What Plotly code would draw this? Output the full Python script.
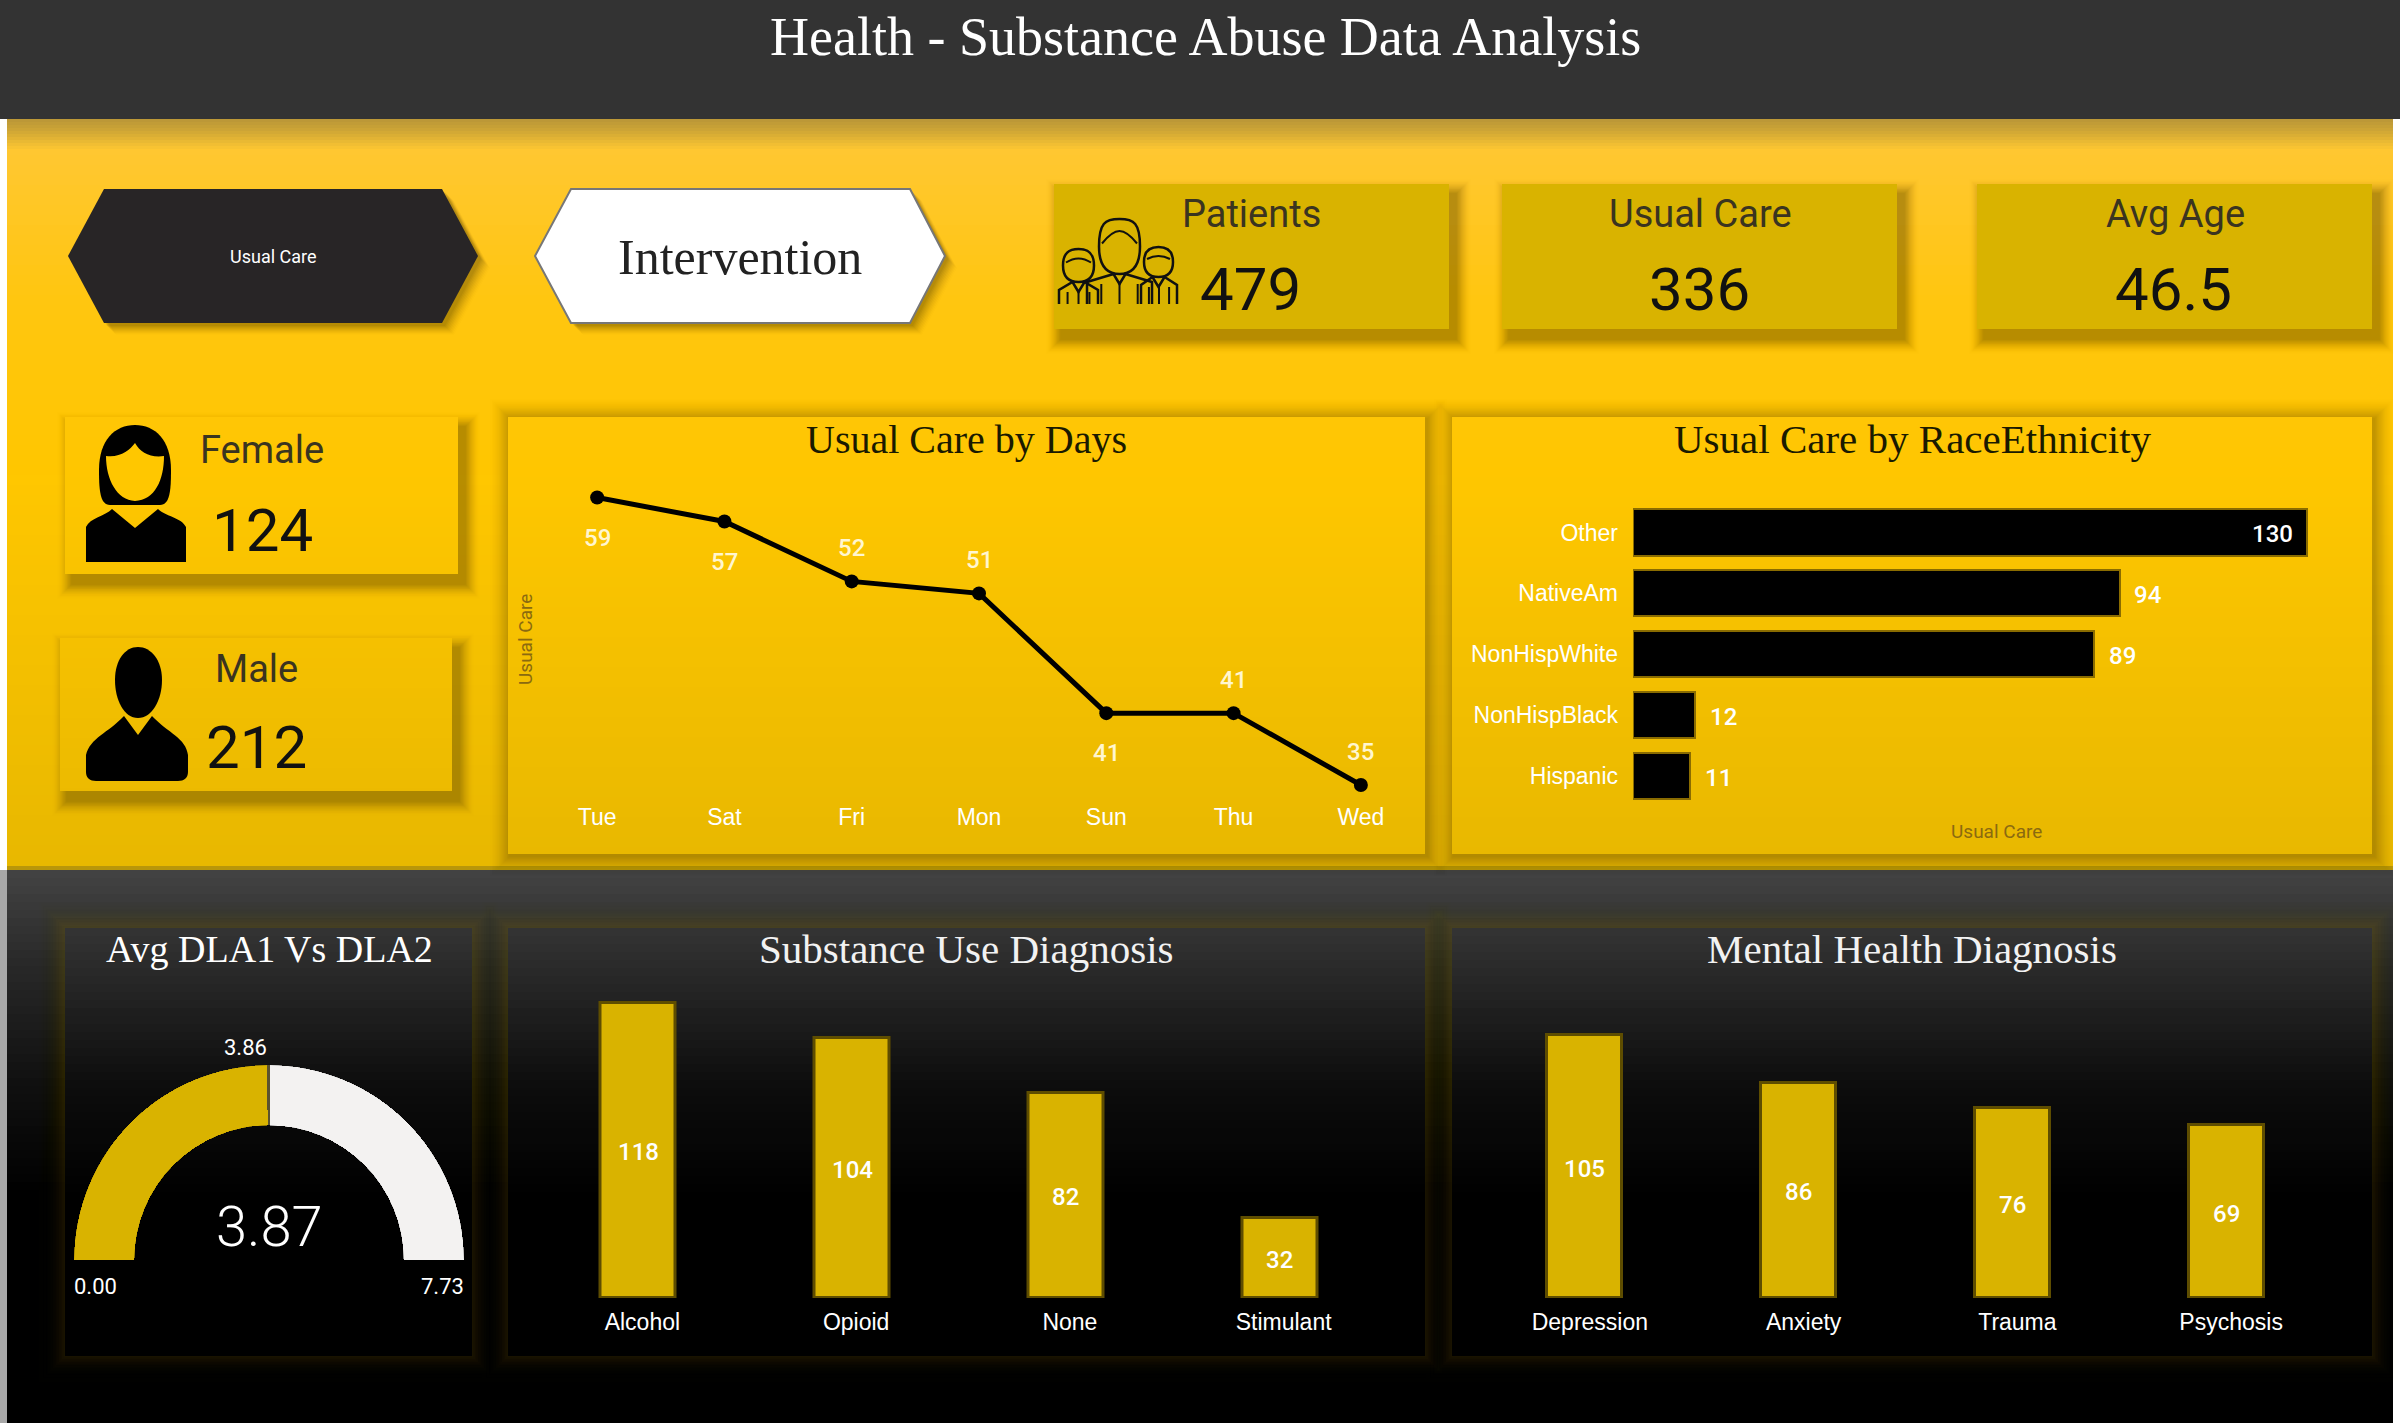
import plotly.graph_objects as go

W, H = 2400, 1423
SERIF = "Liberation Serif"
NARROW = "Roboto"
SANS = "Liberation Sans"
GOLD = "#D9B300"

# ---------- data ----------
dashboard_title = "Health - Substance Abuse Data Analysis"
slicer_items = ["Usual Care", "Intervention"]
kpi_labels = ["Patients", "Usual Care", "Avg Age"]
kpi_values = ["479", "336", "46.5"]
gender_labels = ["Female", "Male"]
gender_values = ["124", "212"]
day_names = ["Tue", "Sat", "Fri", "Mon", "Sun", "Thu", "Wed"]
day_care = [59, 57, 52, 51, 41, 41, 35]
race_names = ["Other", "NativeAm", "NonHispWhite", "NonHispBlack", "Hispanic"]
race_care = [130, 94, 89, 12, 11]
substance_names = ["Alcohol", "Opioid", "None", "Stimulant"]
substance_counts = [118, 104, 82, 32]
mental_names = ["Depression", "Anxiety", "Trauma", "Psychosis"]
mental_counts = [105, 86, 76, 69]
gauge_value = 3.87
gauge_target = 3.86
gauge_min = 0.0
gauge_max = 7.73


# ---------- pixel helpers ----------
def X(p):
    return p / W


def Y(p):
    return 1 - p / H


shapes = []
annots = []


def rect(x0, y0, x1, y1, color, line=None, lw=0):
    shapes.append(dict(type="rect", xref="paper", yref="paper", layer="below",
                       x0=X(x0), x1=X(x1), y0=Y(y0), y1=Y(y1), fillcolor=color,
                       line=dict(width=lw, color=line or color)))


def path(cmds, color=None, line=None, lw=0):
    parts = []
    for c in cmds:
        if c[0] == "Z":
            parts.append("Z")
        else:
            parts.append(c[0] + " ".join(f"{X(a):.5f},{Y(b):.5f}" for a, b in c[1:]))
    shapes.append(dict(type="path", xref="paper", yref="paper", layer="below", path=" ".join(parts),
                       fillcolor=color or "rgba(0,0,0,0)",
                       line=dict(width=lw, color=line or "rgba(0,0,0,0)")))


def text(s, x, y, size, color, font=SANS, bold=False, angle=0, weight=None):
    t = f"<b>{s}</b>" if bold else s
    f = dict(family=font, size=size, color=color)
    if weight:
        f["weight"] = weight
    annots.append(dict(text=t, xref="paper", yref="paper", x=X(x), y=Y(y), xanchor="center", yanchor="middle",
                       showarrow=False, textangle=angle, font=f))


def lerp_stops(stops, y):
    if y <= stops[0][0]:
        return stops[0][1]
    for (a, ca), (b, cb) in zip(stops, stops[1:]):
        if y <= b:
            t = (y - a) / (b - a)
            return tuple(ca[i] + (cb[i] - ca[i]) * t for i in range(3))
    return stops[-1][1]


YELLOW = [(119, (186, 150, 56)), (130, (205, 165, 54)), (150, (255, 200, 50)), (300, (255, 198, 16)),
          (480, (255, 199, 0)), (870, (232, 184, 0))]
DARK = [(870, (68, 68, 68)), (960, (42, 42, 42)), (1080, (17, 17, 17)), (1200, (0, 0, 0))]


def grad(x0, y0, x1, y1, stops, step=10):
    y = y0
    while y < y1:
        c = lerp_stops(stops, y + step / 2)
        rect(x0, y, x1, min(y + step + 1, y1), "rgb(%d,%d,%d)" % c)
        y += step


def shadow(x0, y0, x1, y1, dx, dy, blur, rgb, a, n=18):
    # soft falloff: outer layers are nearly clear, inner layers build up
    for i in range(n):
        e = blur * (1 - i / n)
        alpha = a * (0.1 + 1.8 * i / n)
        rect(x0 + dx - e, y0 + dy - e, x1 + dx + e, y1 + dy + e, f"rgba({rgb},{alpha:.4f})")


# ---------- page background ----------
grad(7, 119, 2393, 155, YELLOW, step=3)
grad(7, 155, 2393, 870, YELLOW, step=10)
grad(7, 870, 2393, 1423, DARK, step=8)
rect(0, 870, 7, 1423, "#A8A8A8")
rect(7, 866, 2393, 870, "#B8960A")
rect(0, 0, W, 119, "#333333")
text(dashboard_title, 1205, 37, 54, "white", SERIF)


# ---------- hexagon slicers ----------
def hexagon(x0, x1, cut0, cut1, fill, line=None):
    for off, alpha in ((12, .012), (11, .02), (10, .03), (9, .03), (8, .04), (7, .05), (6, .05), (5, .06), (4, .07), (3, .07)):
        path([("M", (x0 + off, 256 + off)), ("L", (cut0 + off, 189 + off)), ("L", (cut1 + off, 189 + off)),
              ("L", (x1 + off, 256 + off)), ("L", (cut1 + off, 323 + off)), ("L", (cut0 + off, 323 + off)), ("Z",)],
             f"rgba(60,45,0,{alpha})")
    path([("M", (x0, 256)), ("L", (cut0, 189)), ("L", (cut1, 189)), ("L", (x1, 256)), ("L", (cut1, 323)),
          ("L", (cut0, 323)), ("Z",)], fill, line, 2 if line else 0)


hexagon(68, 478, 104, 442, "#282526")
hexagon(535, 945, 571, 910, "#FFFFFF", "#777777")
text(slicer_items[0], 273, 256, 18, "white", NARROW)
text(slicer_items[1], 740, 257, 50, "#222222", SERIF)

# ---------- KPI cards ----------
kpi_boxes = [(1054, 1449), (1502, 1897), (1977, 2372)]
kpi_cx = [1251, 1700, 2175]
kpi_vx = [1250, 1699, 2173]
for (a, b), cx, vx, lab, val in zip(kpi_boxes, kpi_cx, kpi_vx, kpi_labels, kpi_values):
    shadow(a, 184, b, 329, 7, 10, 15, "100,78,0", .032)
    rect(a, 184, b, 329, GOLD)
    text(lab, cx, 214, 38, "#3A3420", NARROW)
    text(val, vx, 290, 60, "#111111", NARROW)

# ---------- gender cards ----------
gender_boxes = [(65, 417, 458, 574), (60, 638, 452, 791)]
gender_pos = [(262, 450, 530), (256, 669, 747)]
for (a, t, b, u), (cx, ly, vy), lab, val in zip(gender_boxes, gender_pos, gender_labels, gender_values):
    shadow(a, t, b, u, 7, 10, 15, "100,78,0", .032)
    grad(a, t, b, u, YELLOW)
    text(lab, cx, ly, 38, "#3A3420", NARROW)
    text(val, cx, vy, 60, "#111111", NARROW)

# female icon
path([("M", (99, 470)), ("C", (99, 440), (115, 425), (135, 425)), ("C", (155, 425), (171, 440), (171, 470)),
      ("C", (171, 490), (170, 505), (160, 505)), ("L", (110, 505)), ("C", (100, 505), (99, 490), (99, 470)), ("Z",)],
     "#000000")
path([("M", (106, 456)), ("C", (120, 458), (130, 450), (135, 443)), ("C", (140, 452), (150, 458), (164, 456)),
      ("C", (164, 480), (155, 500), (135, 501)), ("C", (117, 500), (106, 480), (106, 456)), ("Z",)], "#FFC700")
path([("M", (86, 562)), ("L", (86, 527)), ("C", (90, 518), (105, 516), (112, 509)), ("L", (135, 528)), ("L", (158, 509)),
      ("C", (165, 516), (182, 518), (186, 527)), ("L", (186, 562)), ("Z",)], "#000000")
# male icon
path([("M", (115, 680)), ("C", (115, 660), (125, 647), (138, 647)), ("C", (151, 647), (162, 660), (162, 680)),
      ("C", (162, 700), (152, 718), (138, 718)), ("C", (124, 718), (115, 700), (115, 680)), ("Z",)], "#000000")
path([("M", (86, 772)), ("L", (86, 755)), ("C", (90, 738), (108, 733), (124, 716)), ("L", (138, 735)), ("L", (152, 716)),
      ("C", (168, 733), (186, 738), (188, 755)), ("L", (188, 772)), ("C", (188, 778), (184, 781), (178, 781)),
      ("L", (96, 781)), ("C", (90, 781), (86, 778), (86, 772)), ("Z",)], "#000000")


# family icon (outlined people)
def person(x0, x1, top, chin, bottom, b0, b1):
    cx = (x0 + x1) / 2
    mid = (top + chin) / 2
    path([("M", (x0, mid)), ("C", (x0, top + 4), (x0 + 6, top), (cx, top)), ("C", (x1 - 6, top), (x1, top + 4), (x1, mid)),
          ("C", (x1, chin - 4), (cx + 9, chin), (cx, chin)), ("C", (cx - 9, chin), (x0, chin - 4), (x0, mid)), ("Z",)],
         GOLD, "#111111", 2.5)
    path([("M", (x0 + 3, mid - 3)), ("C", (cx - 4, top + 8), (cx + 4, top + 8), (x1 - 3, mid - 3))], None, "#111111", 2)
    path([("M", (b0, bottom)), ("L", (b0, chin + 8)), ("L", (cx - 6, chin)), ("L", (cx, chin + 10)),
          ("L", (cx + 6, chin)), ("L", (b1, chin + 8)), ("L", (b1, bottom))], None, "#111111", 2.5)
    w = b1 - b0
    for d in (.22, .5, .78):
        path([("M", (b0 + w * d, chin + 10)), ("L", (b0 + w * d, bottom))], None, "#111111", 2)


person(1099, 1140, 219, 274, 304, 1087, 1152)
person(1063, 1094, 249, 282, 304, 1059, 1098)
person(1144, 1173, 247, 277, 304, 1141, 1177)

# ---------- yellow chart panels ----------
for a, b in ((508, 1425), (1452, 2372)):
    shadow(a, 417, b, 854, 2, 2, 20, "100,78,0", .026)
    grad(a, 417, b, 854, YELLOW)
text("Usual Care by Days", 966, 439, 40, "#1A1A00", SERIF)
text("Usual Care by RaceEthnicity", 1913, 439, 41, "#1A1A00", SERIF)
text("Usual Care", 525, 640, 19, "#8A6A10", NARROW, angle=-90)
text("Usual Care", 1996, 831, 19, "#8A6A10", NARROW)

# ---------- dark panels ----------
PANEL = [(928, (52, 52, 52)), (1080, (14, 14, 14)), (1200, (0, 0, 0))]
for a, b in ((65, 472), (508, 1425), (1452, 2372)):
    shadow(a, 928, b, 1356, 0, 0, 28, "190,155,20", .013)
    grad(a, 928, b, 1356, PANEL, step=8)
text("Avg DLA1 Vs DLA2", 269, 949, 38, "white", SERIF)
text("Substance Use Diagnosis", 966, 949, 41, "#F2F2F2", SERIF)
text("Mental Health Diagnosis", 1912, 949, 41, "#F2F2F2", SERIF)

# ---------- traces ----------
VALUE_FONT = dict(family=NARROW, size=24, color="#FFFFFF", weight=500)
fig = go.Figure()
fig.add_trace(go.Scatter(x=day_names, y=day_care, mode="lines+markers", xaxis="x", yaxis="y",
                         line=dict(color="#000000", width=5), marker=dict(color="#000000", size=14),
                         hoverinfo="skip", showlegend=False))
day_label_side = ["below", "below", "above", "above", "below", "above", "above"]
for d, v, s in zip(day_names, day_care, day_label_side):
    annots.append(dict(text=str(v), x=d, y=v, xref="x", yref="y", showarrow=False, xanchor="center", yanchor="middle",
                       yshift=-40 if s == "below" else 33, font=dict(VALUE_FONT, color="#FFF6D0")))

fig.add_trace(go.Bar(x=race_care, y=race_names, orientation="h", xaxis="x2", yaxis="y2", width=0.76,
                     marker=dict(color="#000000", line=dict(color="#8A6C00", width=2)),
                     hoverinfo="skip", showlegend=False))
for i, (n, v) in enumerate(zip(race_names, race_care)):
    annots.append(dict(text=str(v), x=v, y=n, xref="x2", yref="y2", showarrow=False, xanchor="center",
                       yanchor="middle", xshift=-34 if i == 0 else 28, yshift=-2, font=VALUE_FONT))

for xa, ya, names, vals in (("x3", "y3", substance_names, substance_counts), ("x4", "y4", mental_names, mental_counts)):
    fig.add_trace(go.Bar(x=names, y=vals, xaxis=xa, yaxis=ya, width=0.35,
                         marker=dict(color=GOLD, line=dict(color="#5E4D00", width=3)),
                         hoverinfo="skip", showlegend=False))
    for n, v in zip(names, vals):
        annots.append(dict(text=str(v), x=n, y=v / 2, xref=xa, yref=ya, showarrow=False, xanchor="center",
                           yanchor="middle", yshift=-2, font=VALUE_FONT))

fig.add_trace(go.Barpolar(r=[1], theta=[(gauge_value / gauge_max) * 90], width=[(gauge_value / gauge_max) * 180],
                          marker=dict(color=GOLD, line=dict(width=0)), subplot="polar", hoverinfo="skip", showlegend=False))
fig.add_trace(go.Barpolar(r=[1], theta=[90 + (gauge_value / gauge_max) * 90],
                          width=[(1 - gauge_value / gauge_max) * 180],
                          marker=dict(color="#F3F2F1", line=dict(width=0)), subplot="polar", hoverinfo="skip",
                          showlegend=False))
fig.add_trace(go.Barpolar(r=[1], theta=[(gauge_target / gauge_max) * 180], width=[0.9],
                          marker=dict(color="#5A5230", line=dict(width=0)), subplot="polar", hoverinfo="skip",
                          showlegend=False))

text(f"{gauge_value:.2f}", 269, 1227, 56, "white", NARROW, weight=300)
text(f"{gauge_target:.2f}", 246, 1047, 22, "white", NARROW)
text(f"{gauge_min:.2f}", 95, 1286, 22, "white", NARROW)
text(f"{gauge_max:.2f}", 442, 1286, 22, "white", NARROW)


def dom(a, b):
    return [X(a), X(b)]


def ydom(top, bottom):
    return [Y(bottom), Y(top)]


tickw = dict(family=SANS, size=23, color="white")
hidden = dict(visible=False, fixedrange=True, showgrid=False, zeroline=False)
catx = dict(type="category", showgrid=False, zeroline=False, showline=False, ticks="", fixedrange=True, tickfont=tickw)

fig.update_layout(
    width=W, height=H, margin=dict(l=0, r=0, t=0, b=0), autosize=False,
    paper_bgcolor="#FFFFFF", plot_bgcolor="rgba(0,0,0,0)", showlegend=False,
    bargap=0, barmode="overlay",
    xaxis=dict(domain=dom(533.5, 1424.5), range=[-0.5, 6.5], ticklabelstandoff=1, **catx),
    yaxis=dict(domain=ydom(470, 800), range=[33.75, 61.3], **hidden),
    xaxis2=dict(domain=dom(1633, 2330), range=[0, 134.5], anchor="y2", **hidden),
    yaxis2=dict(domain=ydom(502, 806.5), anchor="x2", type="category", autorange="reversed", showgrid=False,
                zeroline=False, showline=False, ticks="", fixedrange=True, tickfont=tickw, ticklabelstandoff=14),
    xaxis3=dict(domain=dom(531.5, 1386.5), anchor="y3", ticklabelstandoff=8, ticklabelshift=4, **catx),
    yaxis3=dict(domain=ydom(980, 1298), range=[0, 127], anchor="x3", **hidden),
    xaxis4=dict(domain=dom(1478, 2333), anchor="y4", ticklabelstandoff=8, ticklabelshift=5, **catx),
    yaxis4=dict(domain=ydom(980, 1298), range=[0, 127], anchor="x4", **hidden),
    polar=dict(domain=dict(x=dom(74, 464), y=ydom(1065, 1260)), sector=[0, 180], hole=0.69,
               bgcolor="rgba(0,0,0,0)",
               radialaxis=dict(range=[0, 1], visible=False),
               angularaxis=dict(visible=False, direction="clockwise", rotation=180)),
    shapes=shapes, annotations=annots,
)

fig.write_html("out.html", config=dict(displayModeBar=False),
               post_script="document.body.style.margin='0';document.body.style.overflow='hidden';")
